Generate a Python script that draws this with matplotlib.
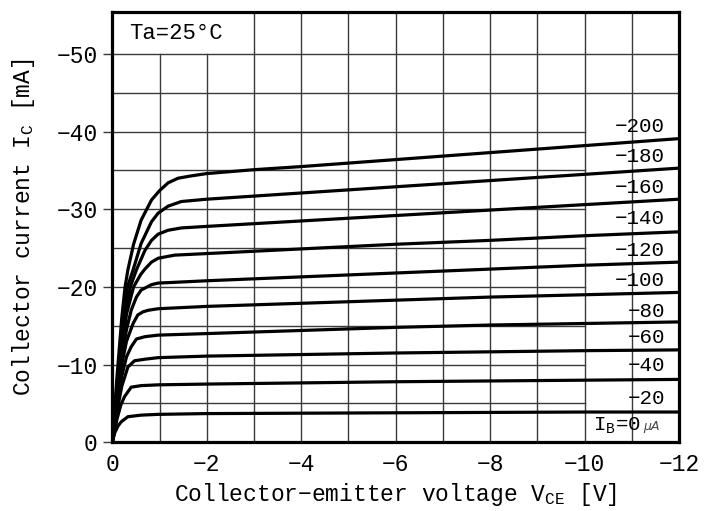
"""Collector current vs collector-emitter voltage (Ta = 25 °C) curves."""

import matplotlib
matplotlib.use("Agg")
import matplotlib.pyplot as plt

OUT_PATH = "out.png"

# VCE [V], IC [mA] for each base current
vce_200 = [0, -0.1, -0.2, -0.27, -0.33, -0.45, -0.61, -0.83, -1.0, -1.18, -1.39, -1.67, -2, -3, -4, -6, -8, -10, -12]
ic_200 = [0, -8.5, -16, -20, -22.2, -25.5, -28.6, -31.2, -32.4, -33.4, -34.0, -34.3, -34.6, -35.1, -35.5, -36.4, -37.3, -38.2, -39.1]

vce_180 = [0, -0.1, -0.2, -0.32, -0.44, -0.61, -0.83, -0.97, -1.18, -1.46, -2, -4, -6, -8, -10, -12]
ic_180 = [0, -7.5, -14, -20, -22.2, -25.6, -28.4, -29.5, -30.4, -31.0, -31.3, -32.1, -32.9, -33.7, -34.5, -35.3]

vce_160 = [0, -0.1, -0.2, -0.38, -0.51, -0.69, -0.83, -0.97, -1.18, -1.46, -2, -4, -6, -8, -10, -12]
ic_160 = [0, -7, -13, -20, -22.2, -24.7, -26.0, -26.8, -27.3, -27.6, -27.8, -28.5, -29.2, -29.9, -30.6, -31.3]

vce_140 = [0, -0.1, -0.2, -0.3, -0.45, -0.6, -0.69, -0.83, -0.97, -1.32, -2, -4, -6, -8, -10, -12]
ic_140 = [0, -6.5, -12, -16.5, -20, -21.6, -22.3, -23.2, -23.7, -24.1, -24.3, -24.9, -25.5, -26.0, -26.6, -27.1]

vce_120 = [0, -0.1, -0.2, -0.3, -0.4, -0.51, -0.61, -0.83, -0.97, -1.32, -2, -4, -6, -8, -10, -12]
ic_120 = [0, -6, -11, -14.5, -17, -18.7, -19.6, -20.3, -20.5, -20.6, -20.8, -21.3, -21.8, -22.3, -22.8, -23.2]

vce_100 = [0, -0.1, -0.2, -0.3, -0.44, -0.54, -0.65, -0.76, -0.97, -2, -4, -6, -8, -10, -12]
ic_100 = [0, -5.5, -10, -13, -15.3, -16.4, -16.8, -17.0, -17.2, -17.5, -17.9, -18.3, -18.7, -19.0, -19.3]

vce_80 = [0, -0.1, -0.2, -0.3, -0.4, -0.51, -0.69, -0.97, -2, -4, -6, -8, -10, -12]
ic_80 = [0, -5, -8.5, -11, -12.3, -13.3, -13.6, -13.8, -14.0, -14.4, -14.8, -15.1, -15.3, -15.5]

vce_60 = [0, -0.1, -0.2, -0.33, -0.47, -0.69, -0.97, -2, -4, -6, -8, -10, -12]
ic_60 = [0, -4, -7.2, -9.7, -10.5, -10.7, -10.9, -11.1, -11.3, -11.5, -11.65, -11.8, -11.9]

vce_40 = [0, -0.1, -0.18, -0.26, -0.4, -0.61, -0.97, -2, -4, -6, -8, -10, -12]
ic_40 = [0, -3, -4.8, -5.9, -7.1, -7.3, -7.4, -7.5, -7.65, -7.8, -7.9, -8.0, -8.1]

vce_20 = [0, -0.05, -0.12, -0.19, -0.33, -0.61, -0.97, -2, -4, -6, -8, -10, -12]
ic_20 = [0, -1.2, -2.1, -2.65, -3.3, -3.5, -3.6, -3.7, -3.75, -3.8, -3.85, -3.9, -3.9]

CURVES = [(vce_200, ic_200), (vce_180, ic_180), (vce_160, ic_160), (vce_140, ic_140),
          (vce_120, ic_120), (vce_100, ic_100), (vce_80, ic_80), (vce_60, ic_60),
          (vce_40, ic_40), (vce_20, ic_20)]

# labels in the right-hand column and where they sit (IC, mA)
ib_labels = ["−200", "−180", "−160", "−140", "−120", "−100", "−80", "−60", "−40", "−20"]
ib_label_ic = [-40.7, -36.8, -32.8, -28.8, -24.7, -20.8, -16.9, -13.5, -9.9, -5.7]

x_ticks = [0, -2, -4, -6, -8, -10, -12]
x_ticklabels = ["0", "−2", "−4", "−6", "−8", "−10", "−12"]
y_ticks = [0, -10, -20, -30, -40, -50]
y_ticklabels = ["0", "−10", "−20", "−30", "−40", "−50"]

FONT = ["Liberation Mono", "DejaVu Sans"]
GRID = "#3a3a3a"


def main():
    plt.rcParams["font.family"] = FONT
    fig = plt.figure(figsize=(7.19, 5.11), dpi=100)
    ax = fig.add_axes([0.1562, 0.1344, 0.7882, 0.8421])
    ax.set_xlim(0, -12)
    ax.set_ylim(0, -55.4)

    # grid: horizontal lines stop at -10 V below -40 mA (label column),
    # vertical lines near the origin stop under the Ta box
    for y in range(-5, -41, -5):
        ax.plot([0, -10], [y, y], color=GRID, lw=1.0, zorder=1)
    for y in (-45, -50):
        ax.plot([0, -12], [y, y], color=GRID, lw=1.0, zorder=1)
    for x in range(-1, -12, -1):
        top = -50 if x > -3 else -55.4
        ax.plot([x, x], [0, top], color=GRID, lw=1.0, zorder=1)

    for v, i in CURVES:
        ax.plot(v, i, color="black", lw=2.3, solid_joinstyle="round", zorder=3)

    for lab, y in zip(ib_labels, ib_label_ic):
        ax.text(-11.7, y, lab, ha="right", va="center", fontsize=15, zorder=4)
    ax.text(-11.2, -2.2, "I$_{\\mathregular{B}}$=0", ha="right", va="center", fontsize=15, zorder=4)
    ax.text(-11.25, -2.1, "µA", ha="left", va="center", fontsize=9, fontstyle="italic",
            family="DejaVu Sans", color="#444444", zorder=4)
    ax.text(-0.36, -52.6, "Ta=25°C", ha="left", va="center", fontsize=16)

    ax.set_xticks(x_ticks)
    ax.set_xticklabels(x_ticklabels)
    ax.set_yticks(y_ticks)
    ax.set_yticklabels(y_ticklabels)
    ax.tick_params(axis="x", length=0, pad=8, labelsize=16.5)
    ax.tick_params(axis="y", length=6.5, width=1.0, pad=4, labelsize=16.5, color=GRID)

    for s in ax.spines.values():
        s.set_linewidth(2.3)
        s.set_color("black")
        s.set_zorder(5)

    ax.set_xlabel("Collector−emitter voltage V$_{\\mathregular{CE}}$ [V]", fontsize=16.5, labelpad=3)
    ax.set_ylabel("Collector current I$_{\\mathregular{C}}$ [mA]", fontsize=16.5, labelpad=14)

    fig.savefig(OUT_PATH, dpi=100)


if __name__ == "__main__":
    main()
